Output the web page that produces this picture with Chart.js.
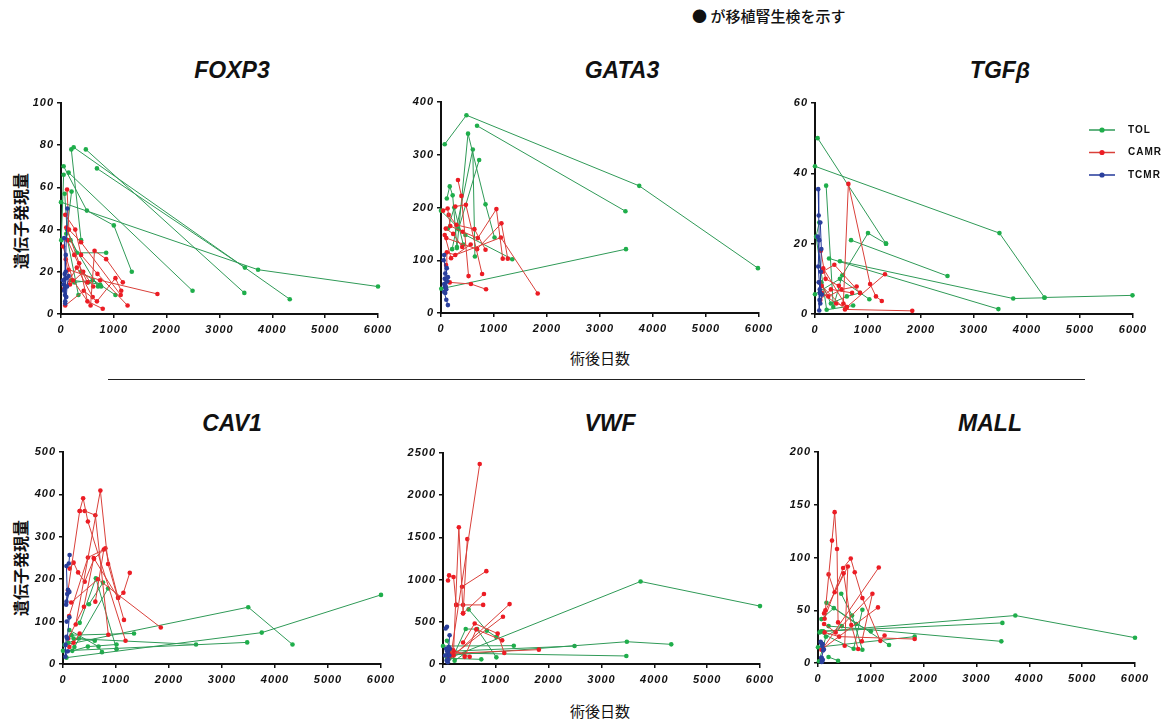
<!DOCTYPE html>
<html>
<head>
<meta charset="utf-8">
<script src="https://cdn.jsdelivr.net/npm/chart.js@4.4.1/dist/chart.umd.min.js"></script>
<style>
  body { margin: 0; width: 1165px; height: 724px; background: #fff; position: relative; overflow: hidden; font-family: "Liberation Sans", Arial, sans-serif; }
  .box { position: absolute; }
  .gene { position: absolute; transform: translateX(-50%); font-weight: bold; font-style: italic; font-size: 23px; color: #111; white-space: nowrap; }
  .jp { position: absolute; font-family: "Noto Sans CJK JP", sans-serif; color: #111; white-space: nowrap; }
  .ytitle { position: absolute; font-family: "Noto Sans CJK JP", sans-serif; font-weight: bold; font-size: 16px; color: #111; transform: translate(-50%, -50%) rotate(-90deg); white-space: nowrap; }
  .rule { position: absolute; left: 108px; top: 379px; width: 977px; height: 1px; background: #222; }
</style>
</head>
<body>
<div class="jp" style="left:692px;top:5px;font-size:15px;font-weight:500;">● が移植腎生検を示す</div>
<div class="gene" style="left:232px;top:57px;">FOXP3</div>
<div class="gene" style="left:622px;top:57px;">GATA3</div>
<div class="gene" style="left:1000px;top:57px;">TGFβ</div>
<div class="gene" style="left:232px;top:410px;">CAV1</div>
<div class="gene" style="left:610px;top:410px;">VWF</div>
<div class="gene" style="left:990px;top:410px;">MALL</div>
<div class="ytitle" style="left:20px;top:221px;">遺伝子発現量</div>
<div class="ytitle" style="left:20px;top:568px;">遺伝子発現量</div>
<div class="jp" style="left:570px;top:347px;font-size:15px;">術後日数</div>
<div class="jp" style="left:570px;top:700px;font-size:15px;">術後日数</div>
<div class="rule"></div>

<script>
// グループ
const groups = ["TOL", "CAMR", "TCMR"];
const lineColors = ["#2f9a57", "#d9403a", "#23399a"];
const dotColors = ["#1fae4b", "#ec1c24", "#2a3f9c"];

// 遺伝子と y 軸
const genes = ["FOXP3", "GATA3", "TGFβ", "CAV1", "VWF", "MALL"];
const yMax = [100, 400, 60, 500, 2500, 200];
const yStep = [20, 100, 20, 100, 500, 50];
const xTicksMax = 6000;

// 各患者の推移 [術後日数, 発現量]
const foxp3TOL = [
  [[0, 53], [3730, 21], [6000, 13]],
  [[680, 69], [3480, 22]],
  [[470, 78], [3470, 10]],
  [[240, 79], [4330, 7]],
  [[195, 78], [380, 35]],
  [[50, 70], [490, 49], [1000, 42], [1340, 20]],
  [[145, 67], [2490, 11]],
  [[70, 57], [115, 40], [200, 58]],
  [[5, 35], [50, 66]],
  [[115, 40], [300, 29], [855, 29]],
  [[200, 16], [520, 15], [740, 14]],
  [[380, 20], [1030, 9]],
  [[100, 38], [330, 9]],
  [[250, 15], [600, 16], [760, 13]],
  [[180, 35], [700, 13]]
];
const foxp3CAMR = [
  [[115, 59], [150, 40], [380, 34], [1130, 9]],
  [[80, 47], [270, 40], [380, 28], [690, 19], [1260, 4]],
  [[100, 41], [345, 24], [500, 6], [790, 2.5]],
  [[40, 32], [225, 16], [560, 4], [635, 30], [855, 26], [1170, 15]],
  [[145, 21], [740, 16], [1825, 9.5]],
  [[80, 4], [430, 11], [680, 6], [1030, 17], [1140, 11]],
  [[120, 35], [250, 28], [500, 15]],
  [[60, 12], [300, 22], [600, 8]],
  [[90, 26], [170, 14], [420, 20], [610, 13]]
];
const foxp3TCMR = [
  [[120, 50], [90, 28], [80, 6]],
  [[70, 19], [40, 16], [60, 11], [80, 5]],
  [[145, 18], [115, 13], [100, 8]],
  [[60, 36], [90, 20], [70, 12]],
  [[50, 14], [75, 9], [95, 17]]
];

const gata3TOL = [
  [[70, 320], [480, 375], [3740, 241], [5980, 85]],
  [[680, 355], [3480, 193]],
  [[5, 46], [3490, 121]],
  [[300, 123], [510, 340], [840, 206], [1010, 143]],
  [[210, 121], [600, 310], [640, 107]],
  [[330, 159], [720, 290]],
  [[0, 194], [460, 148], [1345, 102]],
  [[110, 217], [165, 240], [220, 223], [300, 125]],
  [[130, 160], [250, 200], [420, 130]]
];
const gata3CAMR = [
  [[320, 252], [385, 222], [520, 70]],
  [[270, 202], [470, 205], [775, 74]],
  [[40, 194], [125, 198], [175, 165], [410, 154], [695, 142], [1045, 197], [1165, 103]],
  [[145, 186], [290, 167], [630, 159], [840, 120]],
  [[100, 142], [680, 121], [1140, 170], [1260, 103]],
  [[95, 91], [110, 115], [270, 110], [1130, 143], [1825, 37]],
  [[165, 58], [565, 55], [850, 45]],
  [[70, 148], [190, 104], [560, 130]],
  [[90, 160], [230, 150], [400, 125]]
];
const gata3TCMR = [
  [[60, 110], [80, 75], [60, 40], [100, 25], [130, 15]],
  [[70, 65], [120, 60], [90, 50]],
  [[60, 55], [100, 45], [80, 38], [130, 68]],
  [[50, 100], [110, 85], [75, 50]]
];

const tgfbTOL = [
  [[50, 50], [1340, 20]],
  [[0, 42], [3480, 23], [4330, 4.7], [5990, 5.3]],
  [[470, 15], [3740, 4.4], [4330, 4.6]],
  [[680, 21], [2500, 10.8]],
  [[265, 15.8], [3460, 1.4]],
  [[210, 36.5], [345, 2], [515, 11], [1000, 23], [1340, 20]],
  [[80, 26], [20, 22], [220, 1.2], [720, 2.4]],
  [[0, 5.6], [470, 10], [1025, 4.2]],
  [[120, 9], [300, 3], [600, 5], [850, 6]]
];
const tgfbCAMR = [
  [[535, 3], [630, 37], [1040, 8.5], [1150, 5], [1260, 3.7]],
  [[155, 13], [600, 2], [1320, 11.3]],
  [[140, 12], [365, 14], [850, 6]],
  [[125, 8], [565, 1.3], [1835, 0.9]],
  [[80, 9], [250, 5], [500, 7], [785, 7.8]],
  [[100, 4], [300, 7], [700, 6]],
  [[130, 6], [400, 3], [600, 2]],
  [[110, 18], [200, 10], [450, 8]]
];
const tgfbTCMR = [
  [[60, 35.5], [70, 28], [80, 21], [60, 13.5], [90, 7]],
  [[100, 26], [120, 18.5], [90, 6], [80, 1]],
  [[70, 9], [130, 5.5], [100, 3]],
  [[50, 22], [110, 12], [85, 4]]
];

const cav1TOL = [
  [[65, 15], [3750, 74], [6000, 163]],
  [[30, 45], [3495, 134], [4330, 46]],
  [[0, 31], [3475, 51]],
  [[200, 60], [2510, 46]],
  [[160, 68], [1340, 72]],
  [[175, 31], [470, 41], [1010, 46]],
  [[315, 97], [620, 202], [1010, 35]],
  [[490, 141], [755, 192]],
  [[215, 40], [850, 178]],
  [[120, 80], [670, 41], [735, 28]],
  [[100, 50], [300, 60], [600, 55]]
];
const cav1CAMR = [
  [[240, 93], [705, 409], [850, 236], [1150, 104]],
  [[315, 361], [380, 391], [470, 336], [1180, 55]],
  [[95, 174], [315, 361], [410, 361], [610, 351], [855, 69]],
  [[125, 225], [200, 239], [285, 216], [410, 194], [585, 248], [800, 273], [1040, 156], [1140, 168], [1260, 215]],
  [[115, 113], [470, 251], [770, 270], [610, 147]],
  [[155, 145], [660, 200], [1845, 86]],
  [[100, 60], [395, 135], [580, 250], [1040, 156]],
  [[315, 72], [200, 50], [120, 40]]
];
const cav1TCMR = [
  [[125, 257], [110, 237], [65, 231], [80, 165], [65, 147]],
  [[95, 175], [60, 140], [120, 170]],
  [[65, 64], [50, 45], [45, 17], [90, 30]],
  [[70, 100], [120, 110], [80, 60]]
];

const vwfTOL = [
  [[75, 60], [3740, 978], [6000, 686]],
  [[50, 100], [3480, 264], [4320, 233]],
  [[100, 150], [2490, 213]],
  [[0, 213], [1340, 217]],
  [[120, 130], [3470, 95]],
  [[485, 647], [830, 394], [1010, 320]],
  [[200, 100], [430, 414], [645, 414], [1010, 79]],
  [[125, 67], [725, 55]],
  [[75, 276], [220, 39], [400, 120]]
];
const vwfCAMR = [
  [[150, 100], [695, 2370]],
  [[200, 150], [300, 1620], [380, 600], [460, 1480]],
  [[95, 990], [115, 1050], [200, 1030], [250, 700]],
  [[360, 915], [820, 1100]],
  [[250, 700], [380, 700], [760, 700]],
  [[380, 600], [775, 830]],
  [[200, 100], [1260, 710]],
  [[100, 60], [1135, 560]],
  [[380, 255], [600, 480], [1035, 360], [1160, 130]],
  [[410, 85], [630, 410], [1120, 280]],
  [[125, 125], [1815, 170]],
  [[190, 165], [505, 85]]
];
const vwfTCMR = [
  [[50, 420], [75, 440]],
  [[125, 340], [110, 200], [80, 150], [100, 50]],
  [[60, 180], [90, 120], [70, 40], [120, 100]],
  [[40, 100], [130, 180], [90, 20]]
];

const mallTOL = [
  [[100, 30], [3735, 45], [6000, 24]],
  [[60, 30], [3490, 38]],
  [[200, 35], [3470, 20.5]],
  [[0, 15], [1830, 25]],
  [[160, 57], [1345, 17]],
  [[440, 65.6], [645, 45], [840, 12.6]],
  [[65, 41.6], [300, 52], [725, 37], [1000, 30]],
  [[30, 29], [675, 13.5], [840, 50.5]],
  [[200, 5.7], [380, 2.2]],
  [[20, 1.6], [150, 25], [450, 35]]
];
const mallCAMR = [
  [[140, 50], [265, 116], [315, 143], [360, 108], [380, 38.5]],
  [[200, 84], [315, 67], [485, 85], [630, 36], [760, 13.3]],
  [[125, 42], [475, 90], [620, 99], [695, 86], [840, 61.5], [1180, 21], [1260, 26]],
  [[115, 47], [565, 91.5], [505, 16.4]],
  [[95, 14], [1150, 90.5]],
  [[63, 12.6], [1135, 52.7]],
  [[115, 37], [335, 29], [1030, 65.6], [830, 20.5]],
  [[125, 29], [400, 25], [1830, 22.7]]
];
const mallTCMR = [
  [[60, 19], [80, 16], [100, 12], [70, 5], [80, 2]],
  [[50, 20], [90, 18], [110, 13]],
  [[60, 5], [90, 3], [70, 1]]
];

const tracks = [
  [foxp3TOL, foxp3CAMR, foxp3TCMR],
  [gata3TOL, gata3CAMR, gata3TCMR],
  [tgfbTOL, tgfbCAMR, tgfbTCMR],
  [cav1TOL, cav1CAMR, cav1TCMR],
  [vwfTOL, vwfCAMR, vwfTCMR],
  [mallTOL, mallCAMR, mallTCMR]
];

// プロット領域の位置 (px)
const areas = [
  { left: 61, top: 103, right: 378, bottom: 314 },
  { left: 441, top: 102, right: 759, bottom: 313 },
  { left: 815, top: 103, right: 1133, bottom: 314 },
  { left: 63, top: 452, right: 381, bottom: 664 },
  { left: 443, top: 453, right: 760, bottom: 664 },
  { left: 818, top: 452, right: 1135, bottom: 663 }
];
const AXW = 60, AXH = 30, PADT = 10, PADR = 30;

const tickFont = { family: "'Liberation Sans', Arial, sans-serif", size: 11, weight: "bold", style: "italic" };

// 字間を広げる
const spacingPlugin = {
  id: "spacing",
  beforeDraw(chart) { chart.ctx.letterSpacing = "1px"; }
};

// 凡例 (TGFβ のみ)
const groupLegend = {
  id: "groupLegend",
  afterDraw(chart, args, opts) {
    if (!opts.show) return;
    const ctx = chart.ctx;
    ctx.save();
    groups.forEach((g, gi) => {
      const y = opts.y + gi * opts.gap;
      ctx.strokeStyle = lineColors[gi];
      ctx.lineWidth = 1.5;
      ctx.beginPath();
      ctx.moveTo(opts.x, y);
      ctx.lineTo(opts.x + 26, y);
      ctx.stroke();
      ctx.fillStyle = dotColors[gi];
      ctx.beginPath();
      ctx.arc(opts.x + 13, y, 2.6, 0, Math.PI * 2);
      ctx.fill();
      ctx.fillStyle = "#111";
      ctx.letterSpacing = "1px";
      ctx.font = "bold 10px 'Liberation Sans', Arial, sans-serif";
      ctx.textBaseline = "middle";
      ctx.textAlign = "left";
      ctx.fillText(g, opts.x + 39, y);
    });
    ctx.restore();
  }
};

genes.forEach((gene, i) => {
  const a = areas[i];
  const W = a.right - a.left + AXW + PADR;
  const H = a.bottom - a.top + PADT + AXH;
  const box = document.createElement("div");
  box.className = "box";
  box.style.left = (a.left - AXW) + "px";
  box.style.top = (a.top - PADT) + "px";
  const cv = document.createElement("canvas");
  cv.width = W;
  cv.height = H;
  cv.style.width = W + "px";
  cv.style.height = H + "px";
  box.appendChild(cv);
  document.body.appendChild(box);

  const datasets = [];
  // TCMR を上に描くため順番を逆にする
  [2, 1, 0].forEach((gi) => {
    tracks[i][gi].forEach((tr) => {
      datasets.push({
        label: groups[gi],
        data: tr,
        borderColor: lineColors[gi],
        backgroundColor: dotColors[gi],
        pointBackgroundColor: dotColors[gi],
        pointBorderWidth: 0,
        pointRadius: 2.3,
        borderWidth: 1,
        tension: 0,
        clip: false
      });
    });
  });

  new Chart(cv, {
    type: "line",
    data: { datasets },
    plugins: [spacingPlugin, groupLegend],
    options: {
      responsive: false,
      animation: false,
      layout: { padding: { top: PADT, right: PADR, left: 0, bottom: 0 } },
      plugins: {
        legend: { display: false },
        tooltip: { enabled: false },
        groupLegend: { show: i === 2, x: 334, y: 37, gap: 22.5 }
      },
      scales: {
        x: {
          type: "linear",
          min: 0,
          max: xTicksMax,
          ticks: { stepSize: 1000, font: tickFont, color: "#111", padding: 5, maxRotation: 0, autoSkip: false, callback: (v) => String(v) },
          grid: { display: true, drawOnChartArea: false, tickLength: 4, color: "#111", lineWidth: 1.5 },
          border: { color: "#111", width: 2 },
          afterFit: (s) => { s.height = AXH; }
        },
        y: {
          min: 0,
          max: yMax[i],
          ticks: { stepSize: yStep[i], font: tickFont, color: "#111", padding: 3, callback: (v) => String(v) },
          grid: { display: true, drawOnChartArea: false, tickLength: 4, color: "#111", lineWidth: 1.5 },
          border: { color: "#111", width: 2 },
          afterFit: (s) => { s.width = AXW; }
        }
      }
    }
  });
});
</script>
</body>
</html>
